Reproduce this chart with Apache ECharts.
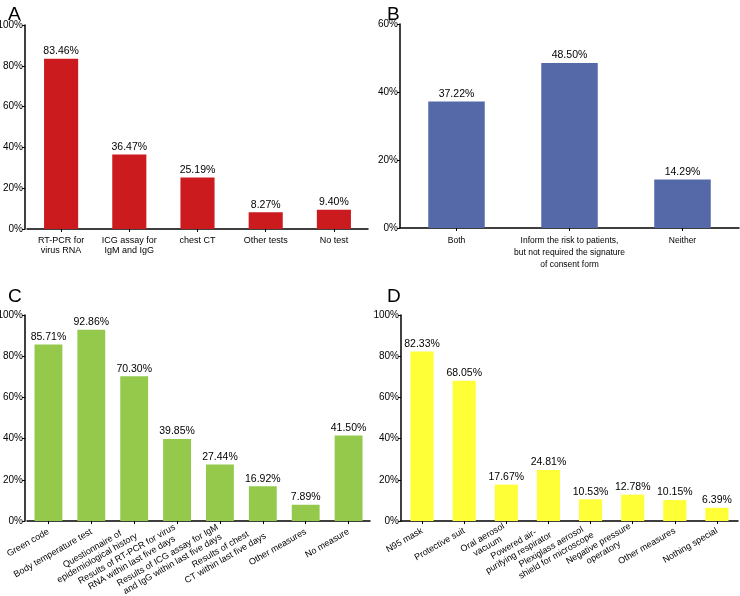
<!DOCTYPE html>
<html><head><meta charset="utf-8">
<script src="https://cdn.jsdelivr.net/npm/echarts@6/dist/echarts.min.js"></script>
<style>html,body{margin:0;padding:0;background:#fff}#c{width:740px;height:596px}</style>
</head><body><div id="c"></div>
<script>
const catsA = ['RT-PCR for\nvirus RNA', 'ICG assay for\nIgM and IgG', 'chest CT', 'Other tests', 'No test'];
const valsA = [83.46, 36.47, 25.19, 8.27, 9.40];
const catsB = ['Both', 'Inform the risk to patients,\nbut not required the signature\nof consent form', 'Neither'];
const valsB = [37.22, 48.50, 14.29];
const catsC = ['Green code', 'Body temperature test', 'Questionnaire of\nepidemiological history', 'Results of RT-PCR for virus\nRNA within last five days', 'Results of ICG assay for IgM\nand IgG within last five days', 'Results of chest\nCT within last five days', 'Other measures', 'No measure'];
const valsC = [85.71, 92.86, 70.30, 39.85, 27.44, 16.92, 7.89, 41.50];
const catsD = ['N95 mask', 'Protective suit', 'Oral aerosol\nvacuum', 'Powered air-\npurifying respirator', 'Plexiglass aerosol\nshield for microscope', 'Negative pressure\noperatory', 'Other measures', 'Nothing special'];
const valsD = [82.33, 68.05, 17.67, 24.81, 10.53, 12.78, 10.15, 6.39];
const yMaxA = 100, yMaxB = 60, yMaxC = 100, yMaxD = 100;

const FONT = 'Arial, "Liberation Sans", sans-serif';
const colors = ['#CC1B1F', '#5569A9', '#95C94C', '#FFFF38'];

const grids = [
  {left: 27, top: 25, width: 341, height: 204},
  {left: 400, top: 24, width: 339, height: 204},
  {left: 27, top: 315, width: 343, height: 206},
  {left: 401, top: 315, width: 337, height: 206}
].map(g => Object.assign(g, {containLabel: false, outerBoundsMode: 'none'}));
const cats = [catsA, catsB, catsC, catsD];
const vals = [valsA, valsB, valsC, valsD];
const ymax = [yMaxA, yMaxB, yMaxC, yMaxD];
const barW = ['50%', '50%', '65%', '55%'];
const rot = [0, 0, 30, 30];
const xMargin = [7, 7, 10, 9];
const yOffset = [2, 0, 2, 0];

function catFmt(v) {
  return v.split('\n').map(l => '{c|' + l + '}').join('\n');
}

const option = {
  animation: false,
  backgroundColor: '#fff',
  title: [
    {text: 'A', left: 3, top: 0},
    {text: 'B', left: 382, top: 0},
    {text: 'C', left: 3, top: 282},
    {text: 'D', left: 382, top: 282}
  ].map(t => Object.assign(t, {textStyle: {fontFamily: FONT, fontSize: 19, fontWeight: 'normal', color: '#000'}})),
  grid: grids,
  xAxis: grids.map((g, i) => ({
    type: 'category', gridIndex: i, data: cats[i],
    axisLine: {lineStyle: {color: '#000', width: 1.5}},
    axisTick: {show: true, alignWithLabel: true, length: 3, lineStyle: {color: '#000', width: 1}},
    axisLabel: {
      interval: 0, rotate: rot[i], margin: xMargin[i],
      formatter: catFmt,
      rich: {c: {align: 'center', fontFamily: FONT, fontSize: i === 1 ? 8.5 : 9, color: '#000', lineHeight: i === 1 ? 12 : 10}}
    }
  })),
  yAxis: grids.map((g, i) => ({
    type: 'value', gridIndex: i, min: 0, max: ymax[i], interval: 20, offset: yOffset[i],
    axisLine: {show: true, lineStyle: {color: '#000', width: 1.5}},
    axisTick: {show: true, length: 3, lineStyle: {color: '#000'}},
    splitLine: {show: false},
    axisLabel: {formatter: '{value}%', fontFamily: FONT, fontSize: 10, color: '#000', margin: 2}
  })),
  series: grids.map((g, i) => ({
    type: 'bar', xAxisIndex: i, yAxisIndex: i, data: vals[i], barWidth: barW[i],
    itemStyle: {color: colors[i]},
    label: {show: true, position: 'top', distance: 2, fontFamily: FONT, fontSize: 10.5, color: '#000',
      formatter: p => p.value.toFixed(2) + '%'}
  }))
};
echarts.init(document.getElementById('c'), null, {renderer: 'canvas'}).setOption(option);
</script>
</body></html>
